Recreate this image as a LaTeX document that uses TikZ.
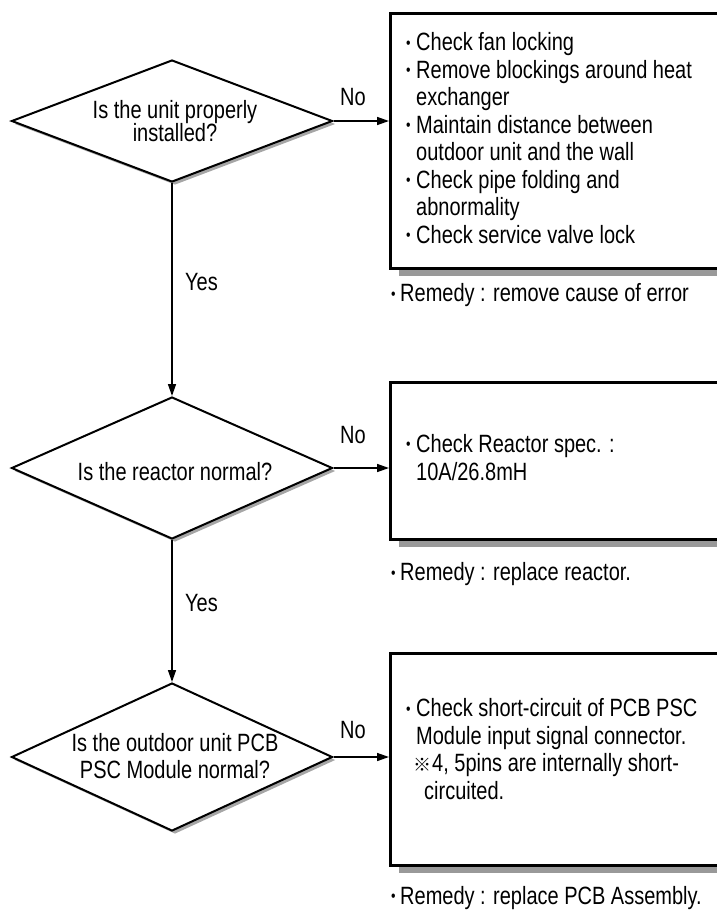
\documentclass[tikz,border=0pt]{standalone}
\usepackage{fontspec}
\setmainfont{Liberation Sans}[FakeStretch=0.8]
\newfontfamily\cjkfont{Noto Sans CJK JP}
\usetikzlibrary{shapes.geometric,arrows.meta,shadows}
\newcommand\dotmark{\raisebox{2.5pt}{\fontsize{16}{16}\selectfont •}}
\newcommand\bul{\makebox[10pt][l]{\dotmark}}
\newcommand\rbul{\makebox[9pt][l]{\dotmark}}
\begin{document}
\begin{tikzpicture}[x=1pt,y=-1pt,
  dia/.style={draw, line width=2pt, shape=diamond, fill=white, inner sep=0pt,
    minimum width=321pt,
    drop shadow={shadow xshift=3pt, shadow yshift=-3pt, fill=black!35, opacity=1}},
  boxst/.style={draw, line width=3pt, rectangle, fill=white, inner sep=0pt,
    anchor=north west, minimum width=351pt,
    drop shadow={shadow xshift=8pt, shadow yshift=-7pt, fill=black!40, opacity=1}},
  txt/.style={font=\fontsize{25}{28}\selectfont, inner sep=0pt, anchor=base west},
  ctxt/.style={font=\fontsize{25}{28}\selectfont, inner sep=0pt, anchor=base},
  conn/.style={line width=1.5pt, -{Triangle[length=12pt,width=8pt]}}]
\useasboundingbox (0,0) rectangle (717,911);
\clip (0,0) rectangle (717,911);

% decisions
\node[dia, minimum height=122pt] (d1) at (172,121) {};
\node[dia, minimum height=142pt] (d2) at (172,468) {};
\node[dia, minimum height=148pt] (d3) at (172,757) {};

\node[ctxt] (d1a) at (175,118.5) {Is the unit properly};
\node[ctxt] (d1b) at (175,141.5) {installed?};
\node[ctxt] (d2a) at (175,480) {Is the reactor normal?};
\node[ctxt] (d3a) at (175,751.5) {Is the outdoor unit PCB};
\node[ctxt] (d3b) at (175,778.5) {PSC Module normal?};

% action boxes
\node[boxst, minimum height=255pt] (b1) at (389,12) {};
\node[boxst, minimum height=157pt] (b2) at (389,381) {};
\node[boxst, minimum height=212pt] (b3) at (389,652) {};

% box 1 text
\node[txt] (t11) at (406,50.5) {\bul Check fan locking};
\node[txt] (t12) at (406,78) {\bul Remove blockings around heat};
\node[txt] (t13) at (416,105.5) {exchanger};
\node[txt] (t14) at (406,133) {\bul Maintain distance between};
\node[txt] (t15) at (416,160.5) {outdoor unit and the wall};
\node[txt] (t16) at (406,188) {\bul Check pipe folding and};
\node[txt] (t17) at (416,215.5) {abnormality};
\node[txt] (t18) at (406,243) {\bul Check service valve lock};

% box 2 text
\node[txt] (t21) at (406,452) {\bul Check Reactor spec. :};
\node[txt] (t22) at (416,480.5) {10A/26.8mH};

% box 3 text
\node[txt] (t31) at (406,716.5) {\bul Check short-circuit of PCB PSC};
\node[txt] (t32) at (416,744) {Module input signal connector.};
\node[txt] (t33m) at (413,771.5) {\raisebox{0.5pt}{\cjkfont\fontsize{18}{18}\selectfont ※}};
\node[txt] (t33) at (432,771.5) {4, 5pins are internally short-};
\node[txt] (t34) at (424,799) {circuited.};

% remedies
\node[txt] (r1) at (391,301.5) {\rbul Remedy : remove cause of error};
\node[txt] (r2) at (391,580.5) {\rbul Remedy : replace reactor.};
\node[txt] (r3) at (391,904) {\rbul Remedy : replace PCB Assembly.};

% connectors
\draw[conn] (d1.south) -- (d2.north);
\draw[conn] (d2.south) -- (d3.north);
\draw[conn] (d1.east) -- (d1.east -| b1.west);
\draw[conn] (d2.east) -- (d2.east -| b2.west);
\draw[conn] (d3.east) -- (d3.east -| b3.west);

% labels
\node[ctxt] (n1) at (353,105.5) {No};
\node[ctxt] (n2) at (353,443.5) {No};
\node[ctxt] (n3) at (353,738.5) {No};
\node[txt] (y1) at (185,290.5) {Yes};
\node[txt] (y2) at (185,611.5) {Yes};
\end{tikzpicture}
\end{document}
